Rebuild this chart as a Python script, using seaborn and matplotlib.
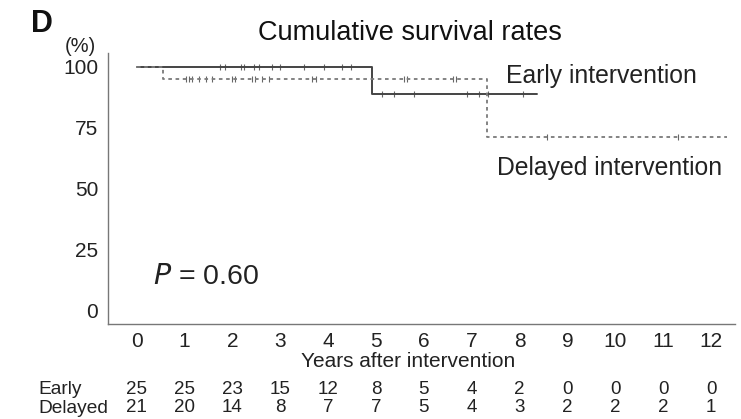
import numpy as np
import pandas as pd
import matplotlib
matplotlib.use("Agg")
import matplotlib.pyplot as plt
import seaborn as sns

# ---- data ----
years = list(range(0, 13))
early_times = [0, 4.92, 8.37]
early_surv = [100, 88.9, 88.9]
delayed_times = [0, 0.56, 7.32, 12.34]
delayed_surv = [100, 95.2, 71.4, 71.4]
early_censor = [1.75, 1.85, 2.17, 2.24, 2.45, 2.55, 2.82, 3.0, 3.49, 3.91, 4.29, 4.47,
                5.13, 5.38, 5.79, 6.91, 7.15, 7.33, 8.06]
delayed_censor = [1.02, 1.09, 1.15, 1.30, 1.44, 1.57, 1.99, 2.06, 2.41, 2.48, 2.62, 2.76,
                  3.66, 3.74, 5.58, 5.65, 6.6, 6.67, 8.58, 11.3]
risk_early = [25, 25, 23, 15, 12, 8, 5, 4, 2, 0, 0, 0, 0]
risk_delayed = [21, 20, 14, 8, 7, 7, 5, 4, 3, 2, 2, 2, 1]
y_ticks = [0, 25, 50, 75, 100]

sns.set_theme(style="white")
plt.rcParams['font.family'] = ['Liberation Sans', 'DejaVu Sans']

fig = plt.figure(figsize=(7.41, 4.19), dpi=100)
ax = fig.add_axes([0.1457, 0.2267, 0.8463, 0.6468])

curves = pd.DataFrame({
    "t": early_times + delayed_times,
    "s": early_surv + delayed_surv,
    "g": ["Early"] * len(early_times) + ["Delayed"] * len(delayed_times),
})
sns.lineplot(data=curves[curves.g == "Early"], x="t", y="s", ax=ax, color="#444444",
             lw=1.4, drawstyle="steps-post", estimator=None, legend=False)
sns.lineplot(data=curves[curves.g == "Delayed"], x="t", y="s", ax=ax, color="#7a7a7a",
             lw=1.3, drawstyle="steps-post", estimator=None, legend=False, dashes=False,
             linestyle=(0, (2.0, 2.0)))

def surv_at(times, surv, pts):
    idx = np.searchsorted(times, pts, side="right") - 1
    return [surv[i] for i in idx]

cens = pd.DataFrame({
    "t": early_censor + delayed_censor,
    "s": surv_at(early_times, early_surv, early_censor) + surv_at(delayed_times, delayed_surv, delayed_censor),
})
sns.scatterplot(data=cens, x="t", y="s", ax=ax, marker="|", s=14, color="#666666",
                linewidth=0.8, legend=False)

ax.set_xlim(-0.6, 12.5)
ax.set_ylim(-5.4, 105.7)
ax.set_xticks(years)
ax.set_xticklabels([str(y) for y in years])
ax.set_yticks(y_ticks)
ax.set_yticklabels([str(v) for v in y_ticks])
ax.set_xlabel("")
ax.set_ylabel("")
for side in ["top", "right"]:
    ax.spines[side].set_visible(False)
for side in ["left", "bottom"]:
    ax.spines[side].set_color("#777777")
    ax.spines[side].set_linewidth(1.0)
ax.tick_params(axis="both", which="both", length=3, width=0.8, color="#bbbbbb",
               labelsize=15, labelcolor="#222222", pad=4, direction="out")
ax.tick_params(axis="x", pad=3)

# texts
fig.text(410 / 741, 1 - 32.5 / 419, "Cumulative survival rates", ha="center", va="center",
         fontsize=19.5, color="#111111")
fig.text(42 / 741, 1 - 24 / 419, "D", ha="center", va="center", fontsize=22,
         fontweight="bold", color="#111111")
fig.text(80 / 741, 1 - 47 / 419, "(%)", ha="center", va="center", fontsize=14.5,
         color="#222222")
fig.text(601 / 741, 1 - 76.5 / 419, "Early intervention", ha="center", va="center",
         fontsize=17.8, color="#222222")
fig.text(609.5 / 741, 1 - 168 / 419, "Delayed intervention", ha="center", va="center",
         fontsize=17.8, color="#222222")
fig.text(153 / 741, 1 - 277 / 419, "$P$ = 0.60", ha="left", va="center",
         fontsize=20.5, color="#222222")
fig.text(408 / 741, 1 - 361 / 419, "Years after intervention", ha="center", va="center",
         fontsize=15, color="#222222")

fig.text(38 / 741, 1 - 389 / 419, "Early", ha="left", va="center", fontsize=13.8,
         color="#222222")
fig.text(38 / 741, 1 - 408 / 419, "Delayed", ha="left", va="center", fontsize=13.8,
         color="#222222")
for y, a, b in zip(years, risk_early, risk_delayed):
    ax.annotate(str(a), xy=(y, 0), xycoords=("data", "figure fraction"),
                xytext=(0, 419 - 389), textcoords="offset pixels",
                ha="center", va="center", fontsize=13.5, color="#222222")
    ax.annotate(str(b), xy=(y, 0), xycoords=("data", "figure fraction"),
                xytext=(0, 419 - 407.5), textcoords="offset pixels",
                ha="center", va="center", fontsize=13.5, color="#222222")

fig.savefig("out.png", dpi=100)
